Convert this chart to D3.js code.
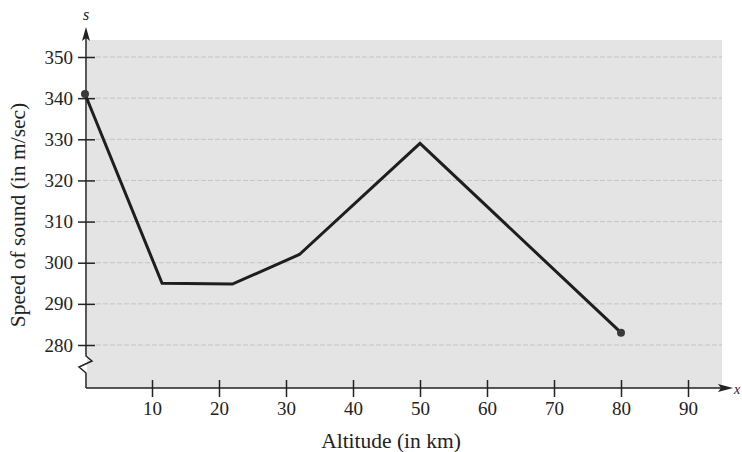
<!DOCTYPE html>
<html>
<head>
<meta charset="utf-8">
<script src="https://cdn.jsdelivr.net/npm/d3@7"></script>
<style>
  body { margin: 0; background: #fff; }
  svg { display: block; font-family: "Liberation Serif", "DejaVu Serif", serif; }
</style>
</head>
<body>
<svg width="742" height="452"></svg>
<script>
// data
const altitude = [0, 11.5, 22, 32, 50, 80]
const speed = [341, 295, 294.8, 302, 329, 283]
const xTicks = [10, 20, 30, 40, 50, 60, 70, 80, 90]
const yTicks = [280, 290, 300, 310, 320, 330, 340, 350]

const svg = d3.select("svg")

const x = d3.scaleLinear().domain([0, 90]).range([85, 688])
const y = d3.scaleLinear().domain([280, 350]).range([345, 57])

const axisY = 388, axisX = 86

// shaded plotting area
svg.append("rect")
    .attr("x", axisX + 1).attr("y", 40)
    .attr("width", 722 - axisX - 1).attr("height", axisY - 40)
    .attr("fill", "#e4e4e4")

// faint grid lines
svg.append("g")
    .selectAll("line")
    .data(yTicks)
    .enter()
    .append("line")
    .attr("x1", axisX + 10).attr("x2", 722)
    .attr("y1", d => y(d)).attr("y2", d => y(d))
    .attr("stroke", "#c4c4c4")
    .attr("stroke-width", 1)
    .attr("stroke-dasharray", "5,2")

// y axis
const yAxis = d3.axisLeft(y)
    .tickValues(yTicks)
    .tickSizeInner(-9)
    .tickSizeOuter(0)
    .tickPadding(13)

const gy = svg.append("g")
    .attr("transform", "translate(" + axisX + ",0)")
    .attr("font-size", 19)
    .attr("font-family", "Liberation Serif, serif")
    .call(yAxis)
gy.select(".domain").remove()
gy.selectAll(".tick line")
    .attr("x1", -8).attr("x2", 9)
    .attr("stroke", "#222").attr("stroke-width", 1.5)
gy.selectAll(".tick text")
    .style("font-size", "19px")
    .style("font-family", "Liberation Serif, serif")
    .attr("fill", "#222")

// y axis line with break
svg.append("path")
    .attr("d", "M" + axisX + ",36 L" + axisX + ",356 L92,361 L79,367 L" + axisX + ",373 L" + axisX + "," + axisY)
    .attr("fill", "none")
    .attr("stroke", "#222")
    .attr("stroke-width", 1.5)

// y arrow
svg.append("path")
    .attr("d", "M" + axisX + ",27 L" + (axisX - 4) + ",41 L" + axisX + ",38 L" + (axisX + 4) + ",41 Z")
    .attr("fill", "#222")

// x axis
const xAxis = d3.axisBottom(x)
    .tickValues(xTicks)
    .tickSizeInner(9)
    .tickSizeOuter(0)
    .tickPadding(5)

const gx = svg.append("g")
    .attr("transform", "translate(0," + axisY + ")")
    .call(xAxis)
gx.select(".domain").remove()
gx.selectAll(".tick line")
    .attr("y1", -8).attr("y2", 9)
    .attr("stroke", "#222").attr("stroke-width", 1.5)
gx.selectAll(".tick text")
    .style("font-size", "19px")
    .style("font-family", "Liberation Serif, serif")
    .attr("fill", "#222")

svg.append("line")
    .attr("x1", axisX).attr("x2", 724)
    .attr("y1", axisY).attr("y2", axisY)
    .attr("stroke", "#222").attr("stroke-width", 1.5)

svg.append("path")
    .attr("d", "M733," + axisY + " L718," + (axisY - 4) + " L721," + axisY + " L718," + (axisY + 4) + " Z")
    .attr("fill", "#222")

// axis letters
svg.append("text")
    .attr("x", axisX).attr("y", 20)
    .attr("text-anchor", "middle")
    .attr("font-style", "italic")
    .attr("font-size", 16)
    .attr("fill", "#222")
    .text("s")

svg.append("text")
    .attr("x", 734).attr("y", 394)
    .attr("font-style", "italic")
    .attr("font-size", 14)
    .attr("fill", "#222")
    .text("x")

// axis titles
svg.append("text")
    .attr("x", 391).attr("y", 448)
    .attr("text-anchor", "middle")
    .attr("font-size", 21.5)
    .attr("fill", "#222")
    .text("Altitude (in km)")

svg.append("text")
    .attr("transform", "translate(25,215) rotate(-90)")
    .attr("text-anchor", "middle")
    .attr("font-size", 21.5)
    .attr("fill", "#222")
    .text("Speed of sound (in m/sec)")

// the data line
const pts = altitude.map((a, i) => [a, speed[i]])

const line = d3.line()
    .x(d => x(d[0]))
    .y(d => y(d[1]))

svg.append("path")
    .datum(pts)
    .attr("d", line)
    .attr("fill", "none")
    .attr("stroke", "#1e1e1e")
    .attr("stroke-width", 3)
    .attr("stroke-linejoin", "miter")

// end points
svg.selectAll("circle.end")
    .data([pts[0], pts[pts.length - 1]])
    .enter()
    .append("circle")
    .attr("class", "end")
    .attr("cx", d => x(d[0]))
    .attr("cy", d => y(d[1]))
    .attr("r", 4)
    .attr("fill", "#3a3a3a")
</script>
</body>
</html>
